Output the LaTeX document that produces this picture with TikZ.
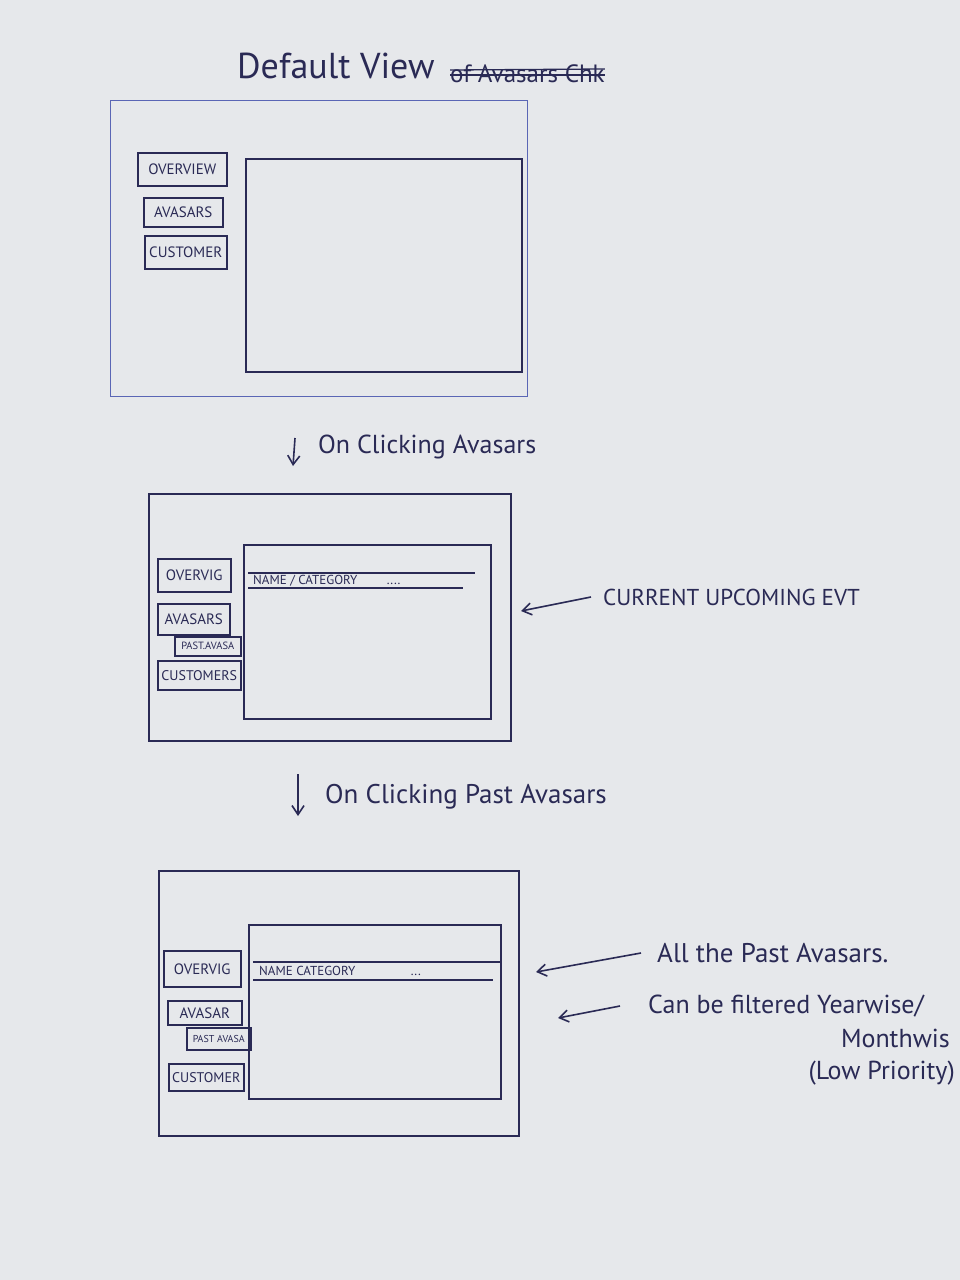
\documentclass[tikz,border=0pt]{standalone}
\usepackage{fontspec}
\setmainfont{PT Sans}
\usetikzlibrary{arrows.meta}
\definecolor{paper}{HTML}{E6E8EB}
\definecolor{inkc}{HTML}{2A2A55}
\definecolor{penblue}{HTML}{5A66B5}
\begin{document}
\begin{tikzpicture}[x=1pt,y=-1pt,
  frame/.style={draw=inkc, line width=1.7pt, rectangle, anchor=north west, inner sep=0pt},
  thinframe/.style={draw=penblue, line width=1.1pt, rectangle, anchor=north west, inner sep=0pt},
  btn/.style={draw=inkc, line width=1.5pt, rectangle, anchor=north west, inner sep=0pt,
    text=inkc, font=\fontsize{15}{16}\selectfont},
  smallbtn/.style={btn, font=\fontsize{14}{15}\selectfont},
  subbtn/.style={btn, font=\fontsize{10.5}{12}\selectfont},
  rowtext/.style={text=inkc, font=\fontsize{13}{14}\selectfont, inner sep=1pt},
  note/.style={text=inkc, anchor=west, inner sep=0pt},
  bignote/.style={note, font=\fontsize{26}{30}\selectfont},
  capnote/.style={note, font=\fontsize{23}{26}\selectfont},
  rowline/.style={draw=inkc, line width=1.5pt},
  pointer/.style={draw=inkc, line width=1.6pt, -{Straight Barb[length=9pt,width=12pt]}}]

\fill[paper] (0,0) rectangle (960,1280);
\useasboundingbox (0,0) rectangle (960,1280);

% ---------- heading ----------
\node[note, font=\fontsize{36}{40}\selectfont] (title) at (237,66) {Default View};
\node[note, font=\fontsize{25}{28}\selectfont] (struck) at (450,74) {of Avasars Chk};
\draw[inkc, line width=1.8pt] ([yshift=-1pt]struck.west) -- ([yshift=-1pt]struck.east);
\draw[inkc, line width=1.3pt] ([yshift=4pt]struck.west) -- ([yshift=5pt]struck.east);

% ---------- default view ----------
\node[thinframe, minimum width=417pt, minimum height=296pt] (outerA) at (110,100) {};
\node[frame, minimum width=276pt, minimum height=213pt] (mainA) at (245,158) {};
\node[btn, minimum width=89pt, minimum height=33pt] (ovA) at (137,152) {OVERVIEW};
\node[btn, minimum width=79pt, minimum height=29pt] (avA) at (143,197) {AVASARS};
\node[btn, minimum width=82pt, minimum height=33pt] (cuA) at (144,235) {CUSTOMER};

% ---------- step 1 ----------
\coordinate (s1top) at (295,438);
\coordinate (s1bot) at (293,466);
\draw[pointer] (s1top) -- (s1bot);
\node[bignote] (step1) at (318,447) {On Clicking Avasars};

% ---------- avasars view ----------
\node[frame, minimum width=362pt, minimum height=247pt] (outerB) at (148,493) {};
\node[frame, minimum width=247pt, minimum height=174pt] (mainB) at (243,544) {};
\coordinate (rowBtl) at (248,573);
\coordinate (rowBtr) at (475,573);
\coordinate (rowBbl) at (248,588);
\coordinate (rowBbr) at (463,588);
\draw[rowline] (rowBtl) -- (rowBtr);
\draw[rowline] (rowBbl) -- (rowBbr);
\node[rowtext, anchor=west] (rowB) at (252,580.5) {NAME / CATEGORY \quad\quad ....};
\node[btn, minimum width=73pt, minimum height=33pt] (ovB) at (157,558) {OVERVIG};
\node[btn, minimum width=72pt, minimum height=31pt] (avB) at (157,603) {AVASARS};
\node[subbtn, minimum width=66pt, minimum height=19pt] (paB) at (174,636) {PAST.AVASA};
\node[smallbtn, minimum width=83pt, minimum height=29pt] (cuB) at (157,660) {CUSTOMERS};

\node[capnote] (noteB) at (603,597) {CURRENT UPCOMING EVT};
\coordinate (noteBtip) at (521,611);
\draw[pointer] ([xshift=-12pt]noteB.west) -- (noteBtip);

% ---------- step 2 ----------
\coordinate (s2top) at (298,774);
\coordinate (s2bot) at (298,816);
\draw[pointer] (s2top) -- (s2bot);
\node[bignote, font=\fontsize{27}{30}\selectfont] (step2) at (325,797) {On Clicking Past Avasars};

% ---------- past avasars view ----------
\node[frame, minimum width=360pt, minimum height=265pt] (outerC) at (158,870) {};
\node[frame, minimum width=252pt, minimum height=174pt] (mainC) at (248,924) {};
\coordinate (rowCtl) at (253,962);
\coordinate (rowCtr) at (500,962);
\coordinate (rowCbl) at (253,980);
\coordinate (rowCbr) at (493,980);
\draw[rowline] (rowCtl) -- (rowCtr);
\draw[rowline] (rowCbl) -- (rowCbr);
\node[rowtext, anchor=west] (rowC) at (258,971) {NAME CATEGORY \quad\quad\quad\quad ...};
\node[btn, minimum width=77pt, minimum height=36pt] (ovC) at (163,950) {OVERVIG};
\node[btn, minimum width=74pt, minimum height=24pt] (avC) at (167,1000) {AVASAR};
\node[subbtn, font=\fontsize{10}{11}\selectfont, minimum width=64pt, minimum height=22pt] (paC) at (186,1027) {PAST AVASA};
\node[smallbtn, minimum width=75pt, minimum height=27pt] (cuC) at (168,1063) {CUSTOMER};

\node[bignote, font=\fontsize{27}{30}\selectfont] (noteC1) at (657,953) {All the Past Avasars.};
\coordinate (noteC1tip) at (536,972);
\draw[pointer] ([xshift=-16pt]noteC1.west) -- (noteC1tip);
\node[bignote] (noteC2) at (648,1006) {Can be filtered Yearwise/};
\node[bignote, anchor=east] (noteC3) at (950,1038) {Monthwis};
\node[bignote, anchor=east] (noteC4) at (955,1073) {(Low Priority)};
\coordinate (noteC2tip) at (558,1018);
\draw[pointer] ([xshift=-28pt]noteC2.west) -- (noteC2tip);
\end{tikzpicture}
\end{document}
